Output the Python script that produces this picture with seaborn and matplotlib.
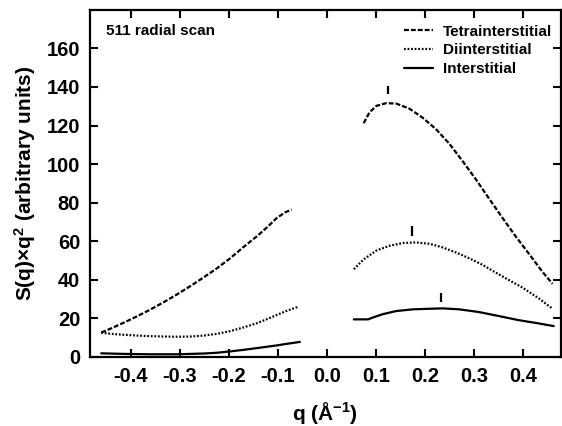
import matplotlib
matplotlib.use("Agg")
import matplotlib.pyplot as plt
import seaborn as sns
import pandas as pd
from matplotlib.lines import Line2D

# ---- data ----
tetra_left_q = [-0.460, -0.440, -0.413, -0.386, -0.359, -0.332, -0.305, -0.278, -0.251,
                -0.224, -0.197, -0.170, -0.143, -0.122, -0.102, -0.085, -0.072]
tetra_left_s = [12.7, 14.8, 17.9, 21.2, 24.7, 28.5, 32.5, 36.8, 41.3,
                46.0, 51.2, 57.0, 62.5, 67.2, 72.1, 75.0, 76.4]
tetra_right_q = [0.075, 0.087, 0.101, 0.121, 0.141, 0.168, 0.195, 0.2225, 0.2495,
                 0.2765, 0.304, 0.331, 0.358, 0.385, 0.412, 0.439, 0.460]
tetra_right_s = [121.2, 126.8, 130.2, 131.6, 131.4, 128.8, 124.1, 118.1, 110.6,
                 101.6, 92.0, 82.0, 72.1, 62.5, 53.5, 44.3, 37.9]

di_left_q = [-0.460, -0.440, -0.413, -0.386, -0.359, -0.332, -0.305, -0.278, -0.251,
             -0.224, -0.197, -0.170, -0.143, -0.122, -0.102, -0.085, -0.070, -0.058]
di_left_s = [12.6, 12.0, 11.5, 11.1, 10.8, 10.6, 10.5, 10.6, 11.1,
             12.0, 13.4, 15.3, 17.5, 19.6, 21.8, 23.6, 25.0, 26.0]
di_right_q = [0.055, 0.074, 0.101, 0.128, 0.155, 0.182, 0.209, 0.236, 0.263,
              0.290, 0.317, 0.344, 0.371, 0.398, 0.432, 0.459]
di_right_s = [45.5, 50.4, 55.2, 57.7, 59.1, 59.4, 58.7, 56.8, 54.2,
              51.2, 47.8, 43.8, 39.9, 36.1, 30.4, 25.2]

inter_left_q = [-0.460, -0.413, -0.359, -0.305, -0.251, -0.224, -0.197, -0.170,
                -0.143, -0.102, -0.085, -0.055]
inter_left_s = [1.9, 1.6, 1.4, 1.4, 1.8, 2.2, 2.9, 3.7, 4.6, 6.0, 6.7, 7.8]
inter_right_q = [0.055, 0.084, 0.094, 0.114, 0.141, 0.175, 0.209, 0.236, 0.270,
                 0.310, 0.351, 0.391, 0.432, 0.4625]
inter_right_s = [19.5, 19.5, 20.5, 22.2, 23.8, 24.7, 25.0, 25.2, 24.7,
                 23.3, 21.2, 19.1, 17.4, 16.0]

peak_q = [0.124, 0.173, 0.233]
peak_lo = [136.3, 62.9, 28.6]
peak_hi = [140.6, 67.7, 33.3]

series_names = ["Tetrainterstitial", "Diinterstitial", "Interstitial"]
x_ticks = [-0.4, -0.3, -0.2, -0.1, 0.0, 0.1, 0.2, 0.3, 0.4]
y_ticks = [0, 20, 40, 60, 80, 100, 120, 140, 160]

rows = []
for name, segs in zip(series_names,
                      [[(tetra_left_q, tetra_left_s), (tetra_right_q, tetra_right_s)],
                       [(di_left_q, di_left_s), (di_right_q, di_right_s)],
                       [(inter_left_q, inter_left_s), (inter_right_q, inter_right_s)]]):
    for k, (qq, ss) in enumerate(segs):
        for a, b in zip(qq, ss):
            rows.append({"series": name, "seg": k, "q": a, "s": b})
df = pd.DataFrame(rows)

sns.set_theme(style="ticks")
plt.rcParams["font.family"] = ["Liberation Sans", "DejaVu Sans"]
plt.rcParams["font.weight"] = "bold"
plt.rcParams["text.color"] = "black"
plt.rcParams["axes.labelcolor"] = "black"
plt.rcParams["xtick.color"] = "black"
plt.rcParams["ytick.color"] = "black"
plt.rcParams["mathtext.fontset"] = "custom"
plt.rcParams["mathtext.rm"] = "Liberation Sans:bold"
plt.rcParams["mathtext.bf"] = "Liberation Sans:bold"
plt.rcParams["mathtext.default"] = "bf"

fig = plt.figure(figsize=(5.62, 4.26), dpi=100)
ax = fig.add_axes([0.160, 0.162, 0.838, 0.815])

styles = {"Tetrainterstitial": (0, (2.2, 0.9)), "Diinterstitial": (0, (0.8, 0.8)), "Interstitial": "-"}
for name in series_names:
    for k in (0, 1):
        sub = df[(df.series == name) & (df.seg == k)]
        sns.lineplot(data=sub, x="q", y="s", ax=ax, color="black", lw=1.6,
                     linestyle=styles[name], estimator=None, sort=True, legend=False)

ax.vlines(peak_q, peak_lo, peak_hi, color="black", lw=1.6)

ax.set_xlim(-0.483, 0.477)
ax.set_ylim(0, 180)
ax.set_xticks(x_ticks)
ax.set_xticklabels([f"{t:.1f}" for t in x_ticks])
ax.set_yticks(y_ticks)
ax.tick_params(direction="in", length=6, width=1.5, top=True, right=True,
               labelsize=14.5, pad=7, colors="black")
for lab in ax.get_xticklabels() + ax.get_yticklabels():
    lab.set_fontweight("bold")
for sp in ax.spines.values():
    sp.set_linewidth(1.6)
    sp.set_color("black")

ax.set_xlabel("q (Å$^{-1}$)", fontsize=15, fontweight="bold", labelpad=10, color="black")
ax.set_ylabel("S(q)×q$^{2}$ (arbitrary units)", fontsize=15, fontweight="bold", labelpad=6,
              color="black")

ax.text(0.035, 0.96, "511 radial scan", transform=ax.transAxes, fontsize=11,
        fontweight="bold", va="top", ha="left", color="black")

handles = [Line2D([0], [0], color="black", lw=1.6, linestyle=styles[n]) for n in series_names]
leg = ax.legend(handles, series_names, loc="upper right", frameon=False,
                prop={"size": 11, "weight": "bold"}, handlelength=1.85,
                handletextpad=0.65, labelspacing=0.32, borderaxespad=0.0,
                bbox_to_anchor=(0.994, 0.975))
for t in leg.get_texts():
    t.set_color("black")

fig.savefig("out.png", dpi=100)
